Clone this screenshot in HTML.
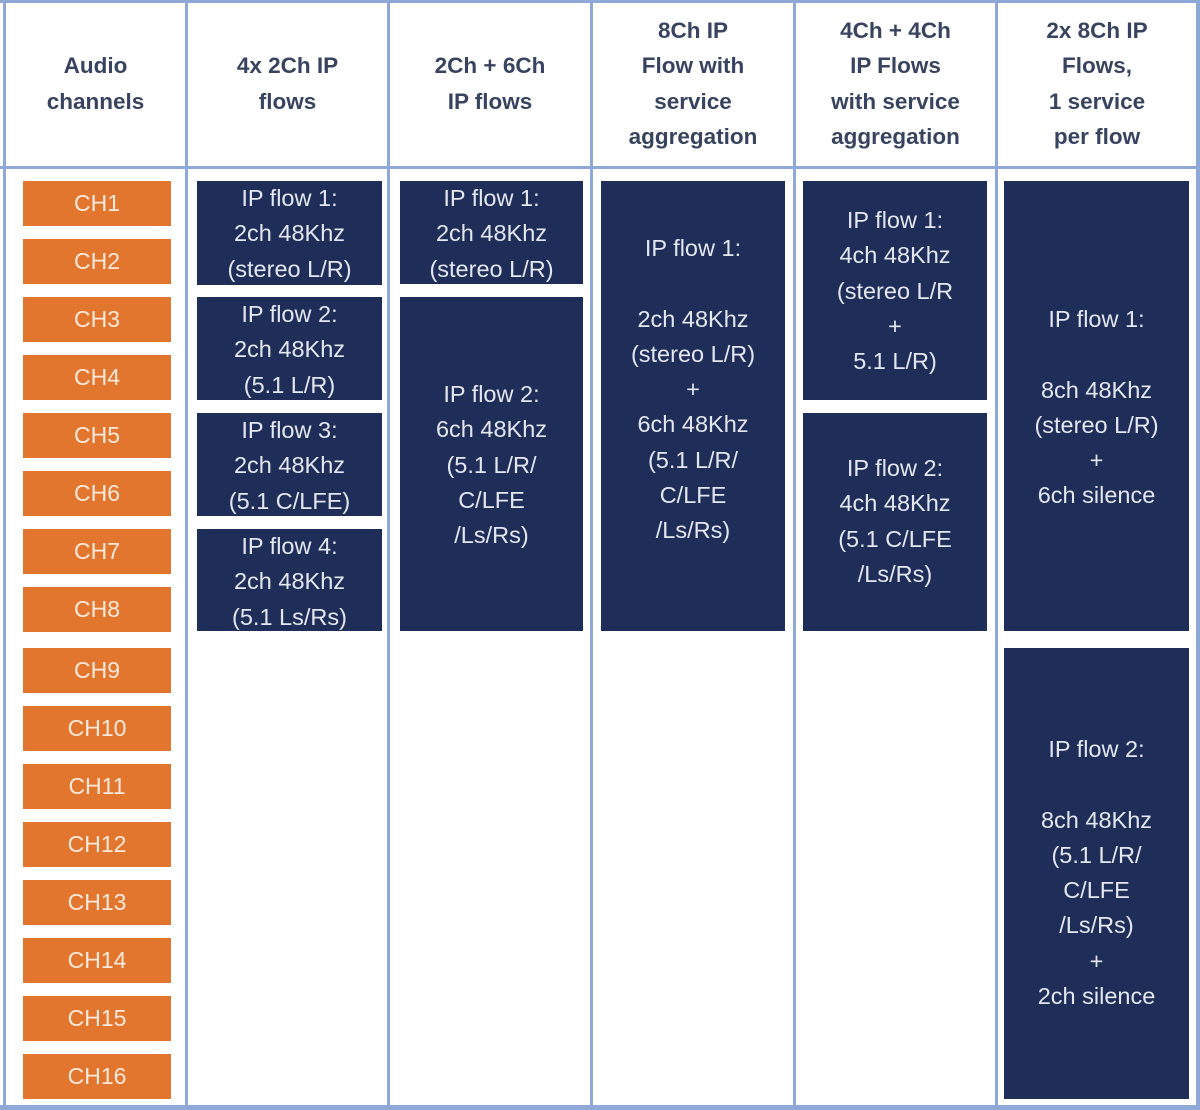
<!DOCTYPE html>
<html><head><meta charset="utf-8"><style>
body{margin:0;width:1200px;height:1110px;background:#fff;position:relative;overflow:hidden;font-family:"Liberation Sans",sans-serif}
.l{position:absolute;background:#8ea9d8}
.h{position:absolute;top:0;height:167px;display:flex;align-items:center;justify-content:center;text-align:center;font-weight:bold;font-size:22.5px;line-height:35.5px;color:#38445f}
.o{position:absolute;left:23px;width:148px;height:45px;background:#e2762f;color:#fbe9dc;font-size:23px;display:flex;align-items:center;justify-content:center}
.d{position:absolute;background:#1f2d59;color:#e4e7ef;font-size:23.5px;line-height:35.3px;text-align:center;box-sizing:border-box;white-space:nowrap}
</style></head><body>
<div class="l" style="left:0;top:0;width:1200px;height:3px"></div>
<div class="l" style="left:0;top:1105px;width:1200px;height:5px"></div>
<div class="l" style="left:0;top:166px;width:1200px;height:3px"></div>
<div class="l" style="left:3px;top:0;width:3px;height:1110px"></div>
<div class="l" style="left:185px;top:0;width:3px;height:1110px"></div>
<div class="l" style="left:387px;top:0;width:3px;height:1110px"></div>
<div class="l" style="left:590px;top:0;width:3px;height:1110px"></div>
<div class="l" style="left:793px;top:0;width:3px;height:1110px"></div>
<div class="l" style="left:995px;top:0;width:3px;height:1110px"></div>
<div class="l" style="left:1196px;top:0;width:4px;height:1110px"></div>

<div class="h" style="left:6px;width:179px">Audio<br>channels</div>
<div class="h" style="left:188px;width:199px">4x 2Ch IP<br>flows</div>
<div class="h" style="left:390px;width:200px">2Ch + 6Ch<br>IP flows</div>
<div class="h" style="left:593px;width:200px">8Ch IP<br>Flow with<br>service<br>aggregation</div>
<div class="h" style="left:796px;width:199px">4Ch + 4Ch<br>IP Flows<br>with service<br>aggregation</div>
<div class="h" style="left:998px;width:198px">2x 8Ch IP<br>Flows,<br>1 service<br>per flow</div>

<div class="o" style="top:181px">CH1</div>
<div class="o" style="top:239px">CH2</div>
<div class="o" style="top:297px">CH3</div>
<div class="o" style="top:355px">CH4</div>
<div class="o" style="top:413px">CH5</div>
<div class="o" style="top:471px">CH6</div>
<div class="o" style="top:529px">CH7</div>
<div class="o" style="top:587px">CH8</div>
<div class="o" style="top:648px">CH9</div>
<div class="o" style="top:706px">CH10</div>
<div class="o" style="top:764px">CH11</div>
<div class="o" style="top:822px">CH12</div>
<div class="o" style="top:880px">CH13</div>
<div class="o" style="top:938px">CH14</div>
<div class="o" style="top:996px">CH15</div>
<div class="o" style="top:1054px">CH16</div>

<div class="d" style="left:197px;width:185px;top:181px;height:104px;padding-top:0">IP flow 1:<br>2ch 48Khz<br>(stereo L/R)</div>
<div class="d" style="left:197px;width:185px;top:297px;height:103px;padding-top:0">IP flow 2:<br>2ch 48Khz<br>(5.1 L/R)</div>
<div class="d" style="left:197px;width:185px;top:413px;height:103px;padding-top:0">IP flow 3:<br>2ch 48Khz<br>(5.1 C/LFE)</div>
<div class="d" style="left:197px;width:185px;top:529px;height:102px;padding-top:0">IP flow 4:<br>2ch 48Khz<br>(5.1 Ls/Rs)</div>

<div class="d" style="left:400px;width:183px;top:181px;height:103px;padding-top:0">IP flow 1:<br>2ch 48Khz<br>(stereo L/R)</div>
<div class="d" style="left:400px;width:183px;top:297px;height:334px;padding-top:80px">IP flow 2:<br>6ch 48Khz<br>(5.1 L/R/<br>C/LFE<br>/Ls/Rs)</div>

<div class="d" style="left:601px;width:184px;top:181px;height:450px;padding-top:50px">IP flow 1:<br><br>2ch 48Khz<br>(stereo L/R)<br>+<br>6ch 48Khz<br>(5.1 L/R/<br>C/LFE<br>/Ls/Rs)</div>

<div class="d" style="left:803px;width:184px;top:181px;height:219px;padding-top:22px">IP flow 1:<br>4ch 48Khz<br>(stereo L/R<br>+<br>5.1 L/R)</div>
<div class="d" style="left:803px;width:184px;top:413px;height:218px;padding-top:38px">IP flow 2:<br>4ch 48Khz<br>(5.1 C/LFE<br>/Ls/Rs)</div>

<div class="d" style="left:1004px;width:185px;top:181px;height:450px;padding-top:121px">IP flow 1:<br><br>8ch 48Khz<br>(stereo L/R)<br>+<br>6ch silence</div>
<div class="d" style="left:1004px;width:185px;top:648px;height:451px;padding-top:84px">IP flow 2:<br><br>8ch 48Khz<br>(5.1 L/R/<br>C/LFE<br>/Ls/Rs)<br>+<br>2ch silence</div>
</body></html>
